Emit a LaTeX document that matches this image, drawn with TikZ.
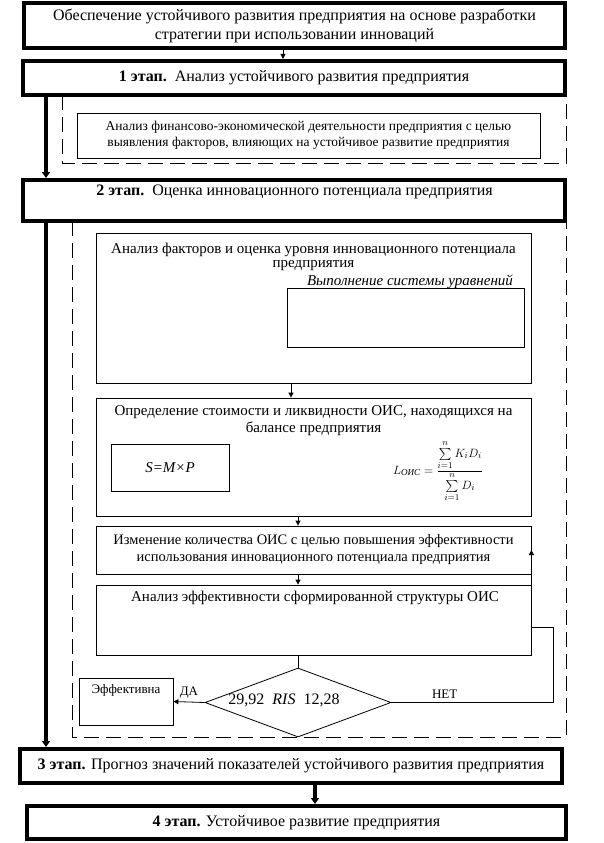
\documentclass[tikz,border=0pt]{standalone}
\usepackage{amsmath}
\usepackage{fontspec}
\setmainfont{Liberation Serif}
\usetikzlibrary{arrows.meta, shapes.geometric, positioning}

\tikzset{
  stagebox/.style={draw, line width=4pt, inner sep=0pt, align=center},
  blockbox/.style={draw, line width=0.8pt, inner sep=0pt, align=center},
  dashline/.style={line width=0.8pt, dash pattern=on 15pt off 7pt},
  thinline/.style={line width=0.8pt},
  thinarrow/.style={line width=0.8pt, -{Triangle[length=5pt, width=5pt]}},
  thickarrow/.style={line width=4pt, -{Triangle[length=6pt, width=8pt]}},
  bigtext/.style={font=\fontsize{16}{19}\selectfont},
  midtext/.style={font=\fontsize{15}{17}\selectfont},
  smalltext/.style={font=\fontsize{13.5}{16}\selectfont}
}

\begin{document}
\begin{tikzpicture}[x=1pt, y=-1pt]
  \useasboundingbox (0,0) rectangle (604,843);

  % Goal of the strategy
  \node[stagebox, bigtext, minimum width=541pt, minimum height=45pt] (goal) at (294.5,25.5)
    {Обеспечение устойчивого развития предприятия на основе разработки\\стратегии при использовании инноваций};

  % Stage 1
  \node[stagebox, bigtext, minimum width=542pt, minimum height=34pt] (st1) at (294,78)
    {\textbf{1 этап.}\ \ Анализ устойчивого развития предприятия};
  \draw[dashline] (62,95) -- (62,163) -- (566,163) -- (566,95);
  \node[blockbox, smalltext, minimum width=463pt, minimum height=45pt] (finance) at (308.5,135.5)
    {Анализ финансово-экономической деятельности предприятия с целью\\выявления факторов, влияющих на устойчивое развитие предприятия};

  % Stage 2
  \node[stagebox, minimum width=542pt, minimum height=41pt] (st2) at (294,200.5) {};
  \node[bigtext] (st2text) at (294.5,192)
    {\textbf{2 этап.}\ \ Оценка инновационного потенциала предприятия};
  \draw[dashline] (72,221) -- (72,737) -- (566,737) -- (566,221);

  % Innovation potential
  \node[blockbox, minimum width=435pt, minimum height=150pt] (potential) at (313.5,308) {};
  \node[align=center, font=\fontsize{15}{14}\selectfont] (potentialtext) at (313.5,257)
    {Анализ факторов и оценка уровня инновационного потенциала\\предприятия};
  \node[font=\fontsize{15}{17}\selectfont\itshape] (systemtext) at (410,282) {Выполнение системы уравнений};
  \node[blockbox, minimum width=237pt, minimum height=59pt] (system) at (405.5,317.5) {};

  % Cost and liquidity
  \node[blockbox, minimum width=435pt, minimum height=118pt] (cost) at (313.5,457) {};
  \node[midtext, align=center] (costtext) at (313.5,420.5)
    {Определение стоимости и ликвидности ОИС, находящихся на\\балансе предприятия};
  \node[blockbox, midtext, minimum width=118pt, minimum height=47pt] (formulaS) at (170,467.5)
    {\textit{S=M×P}};
  \node[font=\fontsize{13}{15}\selectfont] (formulaL) at (438,471)
    {$L_{\text{\itshape ОИС}} = \dfrac{\sum\limits_{i=1}^{n} K_i D_i}{\sum\limits_{i=1}^{n} D_i}$};

  % Change of the structure
  \node[blockbox, font=\fontsize{14.5}{17}\selectfont, minimum width=435pt, minimum height=48pt] (change) at (313.5,550)
    {Изменение количества ОИС с целью повышения эффективности\\использования инновационного потенциала предприятия};

  % Efficiency analysis
  \node[blockbox, minimum width=435pt, minimum height=70pt] (analysis) at (313.5,620) {};
  \node[midtext] (analysistext) at (315,598) {Анализ эффективности сформированной структуры ОИС};

  % Decision
  \node[diamond, draw, thinline, inner sep=0pt, minimum width=186pt, minimum height=69pt] (check) at (298,702.5) {};
  \node[font=\fontsize{16}{19}\selectfont] (checktext) at (284,700) {29,92\ \ \textit{RIS}\ \ 12,28};
  \node[blockbox, minimum width=94pt, minimum height=47pt] (effective) at (126,701.5) {};
  \node[font=\fontsize{13}{15}\selectfont] (effectivetext) at (126,690) {Эффективна};

  % Stages 3 and 4
  \node[stagebox, bigtext, minimum width=542pt, minimum height=34pt] (st3) at (291,766)
    {\textbf{3 этап.} Прогноз значений показателей устойчивого развития предприятия};
  \node[stagebox, bigtext, minimum width=539pt, minimum height=33pt] (st4) at (296.5,822.5)
    {\textbf{4 этап.} Устойчивое развитие предприятия};

  % Connectors
  \coordinate (lft) at (46,0);
  \coordinate (topx) at (283,0);
  \coordinate (potx) at (291,0);
  \coordinate (midx) at (298,0);
  \coordinate (lowx) at (315,0);
  \coordinate (backx) at (553,0);
  \coordinate (backy) at (0,627);

  \draw[thinarrow] (goal.south -| topx) -- (st1.north -| topx);
  \draw[thickarrow] (st1.south -| lft) -- (st2.north -| lft);
  \draw[thickarrow] (st2.south -| lft) -- (st3.north -| lft);
  \draw[thinarrow] (potential.south -| potx) -- (cost.north -| potx);
  \draw[thinarrow] (cost.south -| midx) -- (change.north -| midx);
  \draw[thinarrow] (change.south -| midx) -- (analysis.north -| midx);
  \draw[thinline] (analysis.south -| midx) -- (check.north);
  \draw[thinarrow] (check.west) -- node[above, font=\fontsize{13}{15}\selectfont] {ДА} (effective.east);
  \draw[thinarrow] (check.east) -- node[pos=0.33, above, font=\fontsize{13}{15}\selectfont] {НЕТ} (check.east -| backx)
    -- (backx |- backy) -- (analysis.east |- backy) -- (change.east);
  \draw[thickarrow] (st3.south -| lowx) -- (st4.north -| lowx);
\end{tikzpicture}
\end{document}
